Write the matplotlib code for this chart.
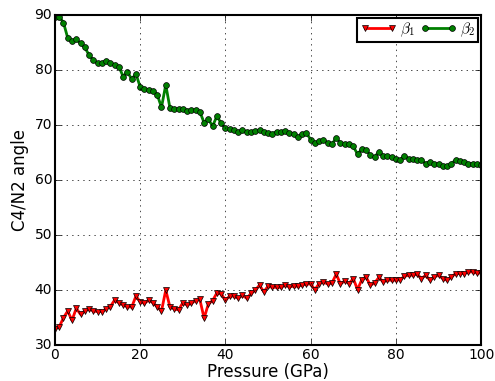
import matplotlib
matplotlib.use('Agg')
import matplotlib.pyplot as plt
import numpy as np

# pressure grid (GPa)
pressure = np.arange(0, 101)

beta1 = [33.0, 33.3, 35.0, 36.2, 34.5, 36.7, 35.6, 36.2, 36.6, 36.2,
         36.1, 36.1, 36.6, 37.0, 38.2, 37.7, 37.3, 37.0, 36.9, 38.9,
         37.9, 37.6, 38.2, 37.7, 37.0, 36.2, 40.0, 36.9, 36.6, 36.4,
         37.7, 37.3, 37.6, 38.1, 38.3, 34.9, 37.5, 38.1, 39.5, 39.3,
         38.2, 38.9, 38.9, 38.5, 39.1, 38.5, 39.4, 40.0, 40.9, 39.7,
         40.7, 40.5, 40.5, 40.5, 40.9, 40.6, 40.7, 40.7, 40.9, 41.1,
         41.1, 40.1, 41.2, 41.5, 41.1, 41.3, 42.9, 41.1, 41.7, 41.2,
         42.1, 40.1, 41.9, 42.4, 40.9, 41.3, 42.3, 41.5, 41.8, 41.8,
         41.8, 41.9, 42.5, 42.7, 42.7, 42.9, 42.1, 42.7, 41.8, 42.4,
         42.7, 42.1, 41.8, 42.4, 43.0, 43.0, 43.0, 43.3, 43.3, 43.1,
         43.1]

beta2 = [89.6, 89.7, 88.6, 85.8, 85.2, 85.6, 84.8, 84.1, 82.7, 81.8,
         81.2, 81.2, 81.7, 81.3, 80.9, 80.6, 78.8, 79.7, 78.3, 79.3,
         76.9, 76.5, 76.4, 76.2, 75.5, 73.2, 77.3, 73.0, 72.9, 72.9,
         72.9, 72.5, 72.7, 72.7, 72.4, 70.4, 71.0, 69.8, 71.6, 70.3,
         69.4, 69.2, 69.1, 68.7, 69.0, 68.7, 68.8, 68.9, 69.0, 68.7,
         68.6, 68.4, 68.8, 68.7, 68.9, 68.6, 68.4, 67.8, 68.4, 68.6,
         67.3, 66.7, 67.0, 67.3, 66.7, 66.5, 67.7, 66.7, 66.5, 66.5,
         66.1, 64.7, 65.6, 65.5, 64.5, 64.2, 65.1, 64.4, 64.4, 64.1,
         63.9, 63.6, 64.4, 63.9, 63.8, 63.6, 63.6, 63.0, 63.3, 63.0,
         62.9, 62.6, 62.5, 63.0, 63.6, 63.5, 63.2, 63.0, 62.9, 62.9,
         62.8]

plt.style.use('classic')
plt.rcParams['mathtext.fontset'] = 'cm'
plt.rcParams['font.size'] = 12

fig = plt.figure(figsize=(4.95, 3.81), dpi=100, facecolor='white')
ax = fig.add_axes([0.111, 0.094, 0.861, 0.867])

ax.plot(pressure, beta1, color='r', marker='v', markersize=5, linewidth=2,
        markeredgecolor='k', markeredgewidth=0.5, label=r'$\beta_1$')
ax.plot(pressure, beta2, color='g', marker='o', markersize=4.2, linewidth=2,
        markeredgecolor='k', markeredgewidth=0.5, label=r'$\beta_2$')

ax.set_xlim(0, 100)
ax.set_ylim(30, 90)
ax.set_xlabel('Pressure (GPa)', fontsize=12, labelpad=1)
ax.set_ylabel('C4/N2 angle', fontsize=12, labelpad=4)
ax.tick_params(labelsize=10, pad=2)
ax.grid(True, linestyle=':', color='k', linewidth=0.5)
for s in ax.spines.values():
    s.set_linewidth(1.5)

leg = ax.legend(loc='upper right', ncol=2, fontsize=11, numpoints=2,
                handlelength=2.4, columnspacing=0.3, handletextpad=0.2,
                borderpad=0.2, borderaxespad=0.2)
leg.get_frame().set_linewidth(1.5)

fig.savefig('out.png', dpi=100, facecolor='white')
